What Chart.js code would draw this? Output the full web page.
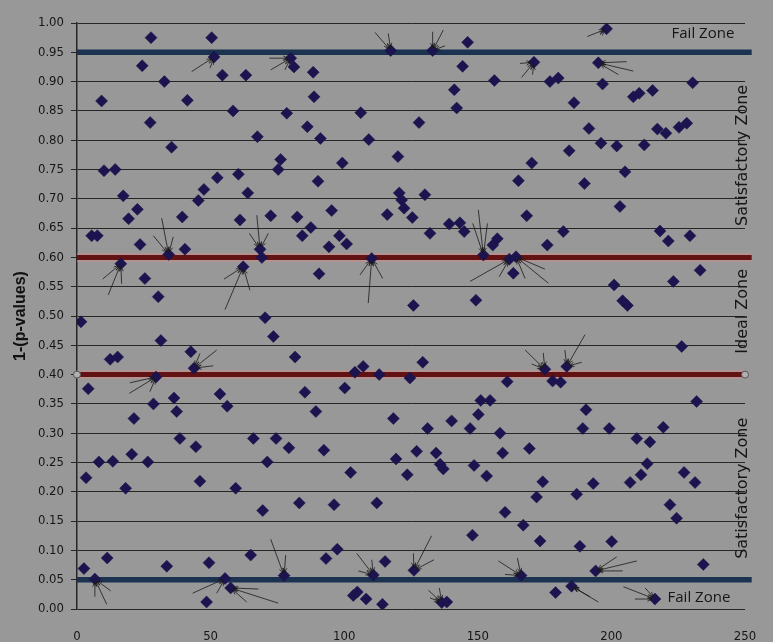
<!DOCTYPE html>
<html>
<head>
<meta charset="utf-8">
<script src="https://cdn.jsdelivr.net/npm/chart.js@4.4.1/dist/chart.umd.min.js"></script>
<style>
  html, body { margin: 0; padding: 0; background: #989898; }
  #wrap { width: 773px; height: 642px; position: relative; }
</style>
</head>
<body>
<div id="wrap"><canvas id="chart"></canvas></div>
<script>
'use strict';

// Sequence index (x) and 1-(p-value) (y).
const sequenceIndex = [
  1.5, 2.6, 3.4, 4.2, 5.5, 6.7, 7.6, 8.2, 9.2, 10.1, 11.3, 12.4, 13.4, 14.3, 15.2, 16.4,
  17.3, 18.2, 19.3, 20.5, 21.3, 22.6, 23.6, 24.4, 25.4, 26.5, 27.4, 27.7, 28.6, 29.6, 30.4,
  31.4, 32.7, 33.6, 34.3, 35.4, 36.3, 37.3, 38.5, 39.4, 40.4, 41.3, 42.6, 43.8, 44.5, 45.4,
  46.0, 47.5, 48.5, 49.4, 50.4, 51.3, 52.5, 53.5, 54.4, 55.4, 56.2, 57.5, 58.4, 59.4, 60.4,
  61.0, 62.2, 63.2, 63.9,
  65.0, 66.0, 67.5, 68.5, 69.2, 69.5, 70.4, 71.2, 72.5, 73.5, 74.5, 75.3, 76.2, 77.5, 78.5,
  79.3, 80.0, 81.2, 81.6, 82.4, 83.2, 84.3, 85.3, 86.2, 87.5, 88.4, 88.7, 89.4, 90.2, 90.6,
  91.1, 92.4, 93.2, 94.3, 95.3, 96.2, 97.4, 98.2, 99.3, 100.2, 100.9, 102.4, 103.4, 104.0,
  104.9, 106.2, 107.1, 108.2, 109.2, 110.3, 110.9, 112.2, 113.1, 114.3, 115.3, 116.1, 117.4,
  118.4, 119.4, 120.1, 120.6, 121.5, 122.4, 123.6, 124.6, 125.5, 125.9, 126.1, 127.1, 128.0,
  129.4, 130.2, 131.2, 132.1, 133.1, 134.4, 135.9, 136.5, 137.1, 138.4, 139.3, 140.2, 141.2,
  142.1, 143.3, 144.3, 144.9, 146.2, 147.1, 148.0, 148.6, 149.3, 150.2, 151.1, 152.1, 153.3,
  154.6, 155.6, 156.2, 157.3, 158.3, 159.3, 160.2, 161.0, 161.8, 163.3, 164.3, 165.2, 166.2,
  167.0, 168.3, 169.3, 170.2, 171.0, 172.0, 173.3, 174.3, 175.1, 176.0, 177.0, 178.0, 179.1,
  180.1, 181.0, 182.0, 183.3, 184.2, 185.1, 186.0, 187.0, 188.2, 189.3, 189.9, 190.5, 191.6,
  193.2, 194.1, 195.1, 196.1, 196.7, 198.2, 199.2, 200.1, 201.0, 202.0, 203.2, 204.2, 205.1,
  206.0, 207.0, 208.2, 209.5, 210.4, 211.1, 212.3, 213.4, 214.4, 215.4, 216.3, 217.2, 218.2,
  219.4, 220.4, 221.3, 221.9, 223.2, 224.4, 225.3, 226.3, 227.2, 228.2, 229.4, 230.4, 231.3,
  231.9, 233.2, 234.4
];

const oneMinusP = [
  0.49, 0.069, 0.224, 0.376, 0.637, 0.051, 0.637, 0.251, 0.867, 0.748, 0.087, 0.426, 0.252, 0.75, 0.43, 0.589,
  0.705, 0.206, 0.666, 0.264, 0.325, 0.682, 0.622, 0.927, 0.564, 0.251, 0.83, 0.975, 0.35, 0.396, 0.533,
  0.458, 0.90, 0.073, 0.605, 0.788, 0.36, 0.337, 0.291, 0.669, 0.614, 0.868, 0.439, 0.411, 0.277, 0.697,
  0.218, 0.716, 0.012, 0.079, 0.975, 0.942, 0.736, 0.367, 0.911, 0.052, 0.346, 0.036, 0.85, 0.206, 0.742,
  0.664, 0.584, 0.911, 0.71,
  0.092, 0.291, 0.806, 0.614, 0.60, 0.168, 0.497, 0.251, 0.671, 0.465, 0.291, 0.75, 0.767, 0.057, 0.846,
  0.275, 0.94, 0.925, 0.43, 0.669, 0.181, 0.637, 0.37, 0.823, 0.651, 0.916, 0.874, 0.337, 0.73, 0.572,
  0.803, 0.271, 0.086, 0.618, 0.68, 0.178, 0.102, 0.637, 0.761, 0.377, 0.623, 0.233, 0.023, 0.404,
  0.029, 0.847, 0.414, 0.017, 0.801, 0.598, 0.058, 0.181, 0.40, 0.008, 0.081, 0.673, 0.953,
  0.325, 0.256, 0.772, 0.71, 0.698, 0.684, 0.229, 0.394, 0.668, 0.518, 0.066, 0.269, 0.83,
  0.421, 0.707, 0.308, 0.641, 0.953, 0.266, 0.247, 0.011, 0.239, 0.012, 0.657, 0.321, 0.886,
  0.855, 0.659, 0.926, 0.644, 0.967, 0.308, 0.126, 0.245, 0.527, 0.332, 0.356, 0.604, 0.227,
  0.356, 0.621, 0.902, 0.632, 0.30, 0.266, 0.165, 0.388, 0.597, 0.573, 0.601, 0.731, 0.057,
  0.143, 0.671, 0.274, 0.761, 0.933, 0.191, 0.116, 0.217, 0.409, 0.621, 0.90, 0.389, 0.028,
  0.906, 0.387, 0.644, 0.414, 0.782, 0.039, 0.864, 0.196, 0.107, 0.308, 0.726, 0.34, 0.82,
  0.214, 0.065, 0.932, 0.795, 0.896, 0.99, 0.308, 0.115, 0.553, 0.79, 0.687, 0.526, 0.746,
  0.518, 0.216, 0.874, 0.291, 0.88, 0.229, 0.792, 0.248, 0.285, 0.885, 0.017, 0.819, 0.645,
  0.31, 0.812, 0.628, 0.178, 0.559, 0.155, 0.822, 0.448, 0.233, 0.829, 0.637, 0.898, 0.216,
  0.354, 0.578, 0.076
];

// Zone boundaries.
const failLevels = [0.95, 0.05];
const idealLevels = [0.60, 0.40];
const xTickValues = [0, 50, 100, 150, 200, 250];

// Arrows marking points that sit on a boundary: target point and tail ends (data units).
const boundaryArrows = [
  { to: [51.3, 0.942], from: [[42.9, 0.917], [49.8, 0.923]] },
  { to: [80.0, 0.94], from: [[72.0, 0.94], [72.5, 0.92], [77.8, 0.92]] },
  { to: [117.4, 0.953], from: [[111.5, 0.984], [116.5, 0.982]] },
  { to: [133.1, 0.953], from: [[137.1, 0.988], [133.1, 0.985], [137.7, 0.961]] },
  { to: [171.0, 0.933], from: [[166.4, 0.907], [165.8, 0.931], [170.5, 0.912]] },
  { to: [198.2, 0.99], from: [[191.0, 0.977], [195.7, 0.98]] },
  { to: [195.1, 0.932], from: [[208.2, 0.918], [205.7, 0.934], [202.6, 0.912]] },
  { to: [34.3, 0.605], from: [[31.7, 0.667], [28.6, 0.637], [36.0, 0.635]] },
  { to: [16.4, 0.589], from: [[11.7, 0.536], [9.6, 0.563], [16.7, 0.555]] },
  { to: [62.2, 0.584], from: [[55.4, 0.511], [55.0, 0.563], [64.7, 0.544]] },
  { to: [68.5, 0.614], from: [[67.3, 0.672], [64.5, 0.641], [71.6, 0.641]] },
  { to: [110.3, 0.598], from: [[109.0, 0.522], [105.9, 0.57], [114.4, 0.564]] },
  { to: [152.1, 0.604], from: [[150.2, 0.681], [148.1, 0.658], [153.6, 0.658]] },
  { to: [161.8, 0.597], from: [[147.1, 0.559], [158.0, 0.567]] },
  { to: [164.3, 0.601], from: [[167.7, 0.564], [175.1, 0.58], [176.4, 0.556]] },
  { to: [43.8, 0.411], from: [[52.3, 0.442], [51.0, 0.415], [46.0, 0.436]] },
  { to: [29.6, 0.396], from: [[19.8, 0.386], [19.6, 0.368], [27.3, 0.371]] },
  { to: [175.1, 0.409], from: [[167.7, 0.442], [170.2, 0.418], [174.5, 0.437]] },
  { to: [183.3, 0.414], from: [[190.1, 0.468], [188.9, 0.421], [182.6, 0.442]] },
  { to: [6.7, 0.051], from: [[11.1, 0.008], [12.6, 0.031], [6.7, 0.021]] },
  { to: [55.4, 0.052], from: [[43.3, 0.027], [52.3, 0.027]] },
  { to: [57.5, 0.036], from: [[75.3, 0.01], [67.9, 0.034], [63.5, 0.012]] },
  { to: [77.5, 0.057], from: [[72.5, 0.119], [78.1, 0.092]] },
  { to: [110.9, 0.058], from: [[104.7, 0.095], [110.3, 0.084], [105.3, 0.065]] },
  { to: [126.1, 0.066], from: [[125.9, 0.095], [132.7, 0.125], [133.6, 0.084]] },
  { to: [136.5, 0.011], from: [[131.5, 0.032], [135.6, 0.036], [132.1, 0.019]] },
  { to: [166.2, 0.057], from: [[157.7, 0.082], [164.8, 0.087], [160.2, 0.059]] },
  { to: [185.1, 0.039], from: [[192.0, 0.021], [195.1, 0.012], [188.2, 0.032]] },
  { to: [194.1, 0.065], from: [[209.5, 0.082], [202.0, 0.089], [204.2, 0.065]] },
  { to: [216.3, 0.017], from: [[204.5, 0.038], [212.6, 0.036], [208.8, 0.017]] }
];

const TICK_FONT = { family: '"Liberation Sans Narrow", "DejaVu Sans Condensed", "Liberation Sans", sans-serif', size: 13 };
const FAIL_FONT = '15px "Open Sans", "Noto Sans", sans-serif';
const ZONE_FONT = '16px "DejaVu Sans", sans-serif';

const points = sequenceIndex.map((x, i) => ({ x: x, y: oneMinusP[i] }));
const level = (y, end) => [{ x: 0, y: y }, { x: end, y: y }];

function levelLine(y, color, width, end, order) {
  return {
    type: 'line', data: level(y, end), borderColor: color, borderWidth: width,
    pointRadius: 0, clip: false, order: order
  };
}

// Arrows and zone names drawn over the data.
const annotations = {
  id: 'annotations',
  afterDatasetsDraw(chart) {
    const { ctx, scales: { x, y } } = chart;
    ctx.save();
    ctx.strokeStyle = '#1b1b1b';
    ctx.lineWidth = 0.8;
    for (const arrow of boundaryArrows) {
      const tx = x.getPixelForValue(arrow.to[0]);
      const ty = y.getPixelForValue(arrow.to[1]);
      for (const tail of arrow.from) {
        const fx = x.getPixelForValue(tail[0]);
        const fy = y.getPixelForValue(tail[1]);
        const ang = Math.atan2(ty - fy, tx - fx);
        const ex = tx - Math.cos(ang) * 3;
        const ey = ty - Math.sin(ang) * 3;
        ctx.beginPath();
        ctx.moveTo(fx, fy);
        ctx.lineTo(ex, ey);
        ctx.moveTo(ex, ey);
        ctx.lineTo(ex - Math.cos(ang - 0.45) * 5, ey - Math.sin(ang - 0.45) * 5);
        ctx.moveTo(ex, ey);
        ctx.lineTo(ex - Math.cos(ang + 0.45) * 5, ey - Math.sin(ang + 0.45) * 5);
        ctx.stroke();
      }
    }

    ctx.fillStyle = '#161616';
    ctx.font = FAIL_FONT;
    ctx.textBaseline = 'middle';
    ctx.textAlign = 'right';
    ctx.fillText('Fail Zone', x.getPixelForValue(246), y.getPixelForValue(0.981));
    ctx.fillText('Fail Zone', x.getPixelForValue(244.5), y.getPixelForValue(0.02));

    ctx.font = ZONE_FONT;
    ctx.textAlign = 'center';
    const vx = x.getPixelForValue(249.3);
    [['Satisfactory Zone', 0.774], ['Ideal Zone', 0.508], ['Satisfactory Zone', 0.206]].forEach(([t, v]) => {
      ctx.save();
      ctx.translate(vx, y.getPixelForValue(v));
      ctx.rotate(-Math.PI / 2);
      ctx.fillText(t, 0, 0);
      ctx.restore();
    });
    ctx.restore();
  }
};

new Chart(document.getElementById('chart'), {
  data: {
    datasets: [
      {
        type: 'scatter', data: points, order: 0,
        pointStyle: 'rectRot', pointRadius: 6, pointHoverRadius: 6,
        backgroundColor: '#1c144e', borderColor: 'rgba(28,20,78,0.5)', borderWidth: 1
      },
      levelLine(failLevels[0], '#1b3250', 5.5, 252.5, 2),
      levelLine(failLevels[1], '#1b3250', 5.5, 252.5, 2),
      levelLine(idealLevels[0], 'rgba(200,140,140,0.55)', 9, 252.5, 3),
      levelLine(idealLevels[0], '#621212', 5, 252.5, 2),
      levelLine(idealLevels[1], 'rgba(200,140,140,0.55)', 9, 250, 3),
      {
        type: 'line', data: level(idealLevels[1], 250), borderColor: '#621212', borderWidth: 5,
        pointRadius: 3.5, pointBackgroundColor: '#b0b0b0', pointBorderColor: '#555',
        pointBorderWidth: 1, clip: false, order: 2
      }
    ]
  },
  options: {
    responsive: true,
    maintainAspectRatio: false,
    animation: false,
    layout: { padding: { left: 6, top: 23, right: 28, bottom: 0 } },
    plugins: { legend: { display: false }, tooltip: { enabled: false } },
    scales: {
      x: {
        type: 'linear', min: 0, max: 250,
        afterBuildTicks: s => { s.ticks = xTickValues.map(v => ({ value: v })); },
        afterFit: s => { s.height = 33; },
        grid: { display: false },
        border: { display: false },
        ticks: { color: '#161616', font: TICK_FONT, padding: 12, maxRotation: 0 }
      },
      y: {
        min: 0, max: 1,
        afterFit: s => { s.width = 71; },
        ticks: {
          stepSize: 0.05, color: '#161616', font: TICK_FONT, padding: 7,
          callback: v => v.toFixed(2)
        },
        grid: { color: '#262626', lineWidth: 1, tickLength: 6 },
        border: { color: '#262626', width: 1.5 },
        title: {
          display: true, text: '1-(p-values)', color: '#111',
          font: { family: '"Liberation Sans", Arial, sans-serif', size: 16, weight: 'bold' },
          padding: { top: 5, bottom: 0 }
        }
      }
    }
  },
  plugins: [annotations]
});
</script>
</body>
</html>
